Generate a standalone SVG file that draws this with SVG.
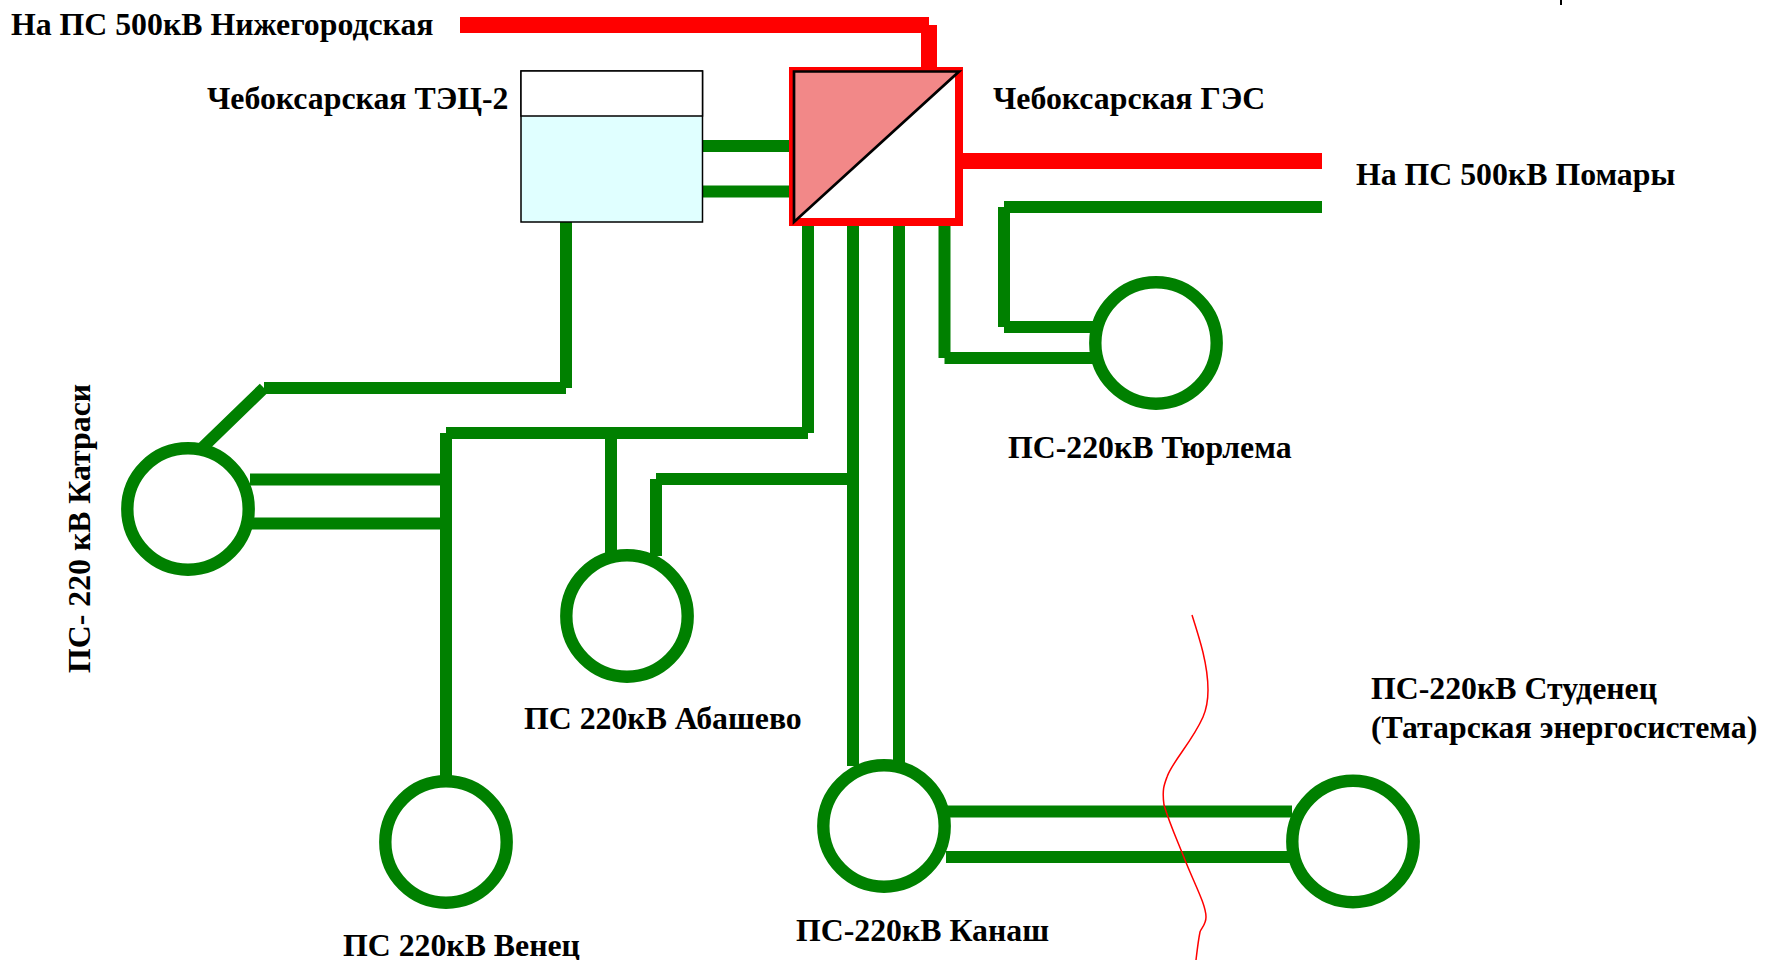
<svg xmlns="http://www.w3.org/2000/svg" width="1765" height="960" viewBox="0 0 1765 960">
<style>
.g{fill:none;stroke:#008000;stroke-width:12}
.r{fill:none;stroke:#f00;stroke-width:16}
.c{fill:#fff;stroke:#008000;stroke-width:12.4}
text{font-family:"Liberation Serif","Times New Roman",serif;font-weight:700;font-size:31.8px;fill:#000}
</style>
<rect width="1765" height="960" fill="#fff"/>
<g id="connectors">
<path class="r" d="M460 25H929M929 25V67M963 161H1322"/>
<path class="g" d="M703 146H789M703 191.5H789"/>
<path class="g" d="M566 222V388M566 388H264M264 388L200 450"/>
<path class="g" d="M808 226V433M808 433H446M446 433V777M250 479.5H446M250 523.5H446"/>
<path class="g" d="M611 433V556M656 556V479M656 479H853M853 226V766M899 226V766"/>
<path class="g" d="M944.5 226V358M944.5 358H1095M1004 327H1095M1004 327V207M1004 207H1322"/>
<path class="g" d="M946 811.5H1292M946 857H1295"/>
<path fill="none" stroke="#f00" stroke-width="1.5" d="M1192 615C1200 640 1208 665 1208 690C1208 702 1206 710 1203 717C1192 742 1172 762 1167 777C1164 785 1162 790 1164 805C1170 825 1178 842 1185 860C1195 885 1206 905 1206 917C1206 925 1201 928 1200 932C1198 942 1197 952 1196 960"/>
<path stroke="#000" stroke-width="2" d="M1561 0V5"/>
</g>
<g id="node-ges">
<rect x="793" y="71" width="166" height="151" fill="#fff" stroke="#f00" stroke-width="8"/>
<path d="M794 71.5H959L794 222Z" fill="#f28888" stroke="#000" stroke-width="2.7"/>
<text x="993" y="109">Чебоксарская ГЭС</text>
</g>
<g id="node-tec2">
<rect x="521" y="71" width="181.5" height="151" fill="#e0ffff" stroke="#000" stroke-width="1.5"/>
<path d="M521 71H702.5V116H521Z" fill="#fff" stroke="#000" stroke-width="1.5"/>
<text x="207" y="109">Чебоксарская ТЭЦ-2</text>
</g>
<g id="node-tyurlema"><circle class="c" cx="1156" cy="343" r="60.7"/><text x="1008" y="458">ПС-220кВ Тюрлема</text></g>
<g id="node-katrasi"><circle class="c" cx="188" cy="509" r="60.7"/><text transform="translate(90 673) rotate(-90)">ПС- 220 кВ Катраси</text></g>
<g id="node-abashevo"><circle class="c" cx="627" cy="616" r="60.7"/><text x="524" y="729">ПС 220кВ Абашево</text></g>
<g id="node-venets"><circle class="c" cx="446" cy="842" r="60.7"/><text x="343" y="956">ПС 220кВ Венец</text></g>
<g id="node-kanash"><circle class="c" cx="884" cy="826" r="60.7"/><text x="796" y="941">ПС-220кВ Канаш</text></g>
<g id="node-studenets"><circle class="c" cx="1353" cy="841.5" r="60.7"/><text x="1371" y="699">ПС-220кВ Студенец</text><text x="1371" y="738">(Татарская энергосистема)</text></g>
<g id="labels">
<text x="11" y="35">На ПС 500кВ Нижегородская</text>
<text x="1356" y="185">На ПС 500кВ Помары</text>
</g>
</svg>
